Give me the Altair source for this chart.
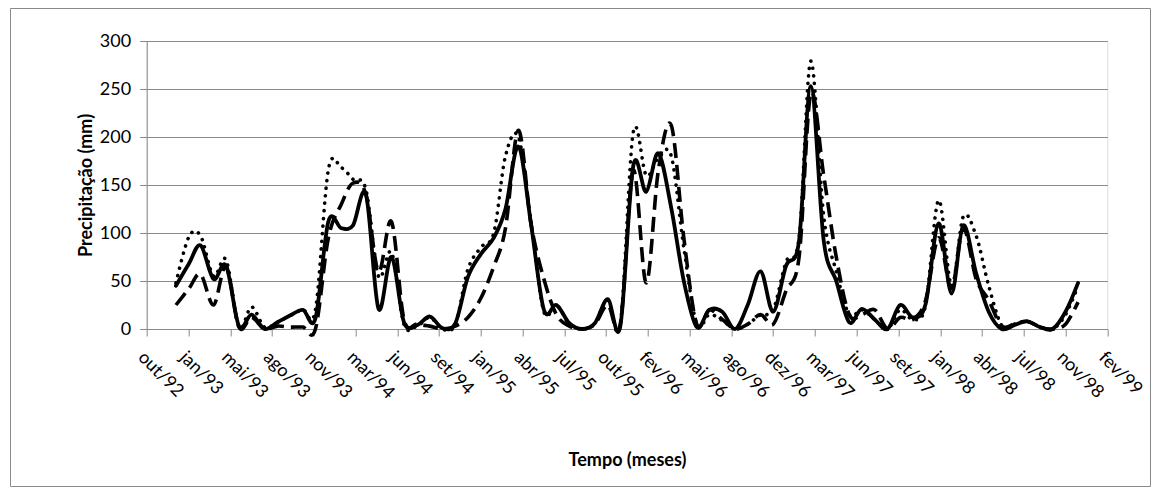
import altair as alt
import pandas as pd

# ---- data (monthly precipitation, mm), Jan/1993 .. Dec/1998 ----
MONTHS = pd.date_range("1993-01-01", periods=72, freq="MS").strftime("%Y-%m-%d").tolist()

SOLID = [
    45, 68, 87, 52, 66, 3, 15, 0, 7, 14, 20, 11,
    112, 105, 108, 140, 21, 75, 7, 4, 13, 1, 6, 54,
    78, 95, 125, 190, 110, 20, 25, 6, 0, 6, 31, 3,
    170, 143, 183, 126, 50, 2, 20, 18, 0, 25, 60, 18,
    66, 92, 253, 92, 50, 7, 21, 10, 0, 25, 12, 26,
    110, 37, 108, 58, 18, 0, 4, 8, 2, 0, 18, 48,
]
DOTTED = [
    48, 96, 97, 55, 72, 2, 23, 2, 7, 14, 20, 20,
    166, 168, 156, 145, 55, 80, 5, 3, 12, 0, 5, 62,
    85, 100, 180, 200, 112, 18, 25, 5, 0, 6, 30, 5,
    205, 160, 178, 180, 85, 5, 15, 9, 0, 5, 15, 20,
    70, 95, 279, 118, 60, 15, 20, 10, 0, 20, 10, 25,
    134, 45, 117, 97, 45, 4, 5, 8, 2, 0, 15, 45,
]
DASHED = [
    25, 42, 57, 25, 65, 2, 12, 0, 3, 2, 2, 0,
    95, 130, 152, 140, 60, 112, 10, 5, 3, 0, 3, 12,
    32, 65, 105, 207, 110, 52, 15, 3, 0, 5, 25, 5,
    165, 48, 165, 212, 95, 5, 20, 10, 0, 5, 15, 5,
    40, 75, 245, 160, 75, 15, 15, 20, 0, 12, 10, 30,
    95, 42, 105, 52, 30, 3, 5, 8, 2, 0, 5, 28,
]

TICK_START = "1992-10-23"
TICK_STEP_DAYS = 100
N_TICKS = 24
MONTH_ABBR = ["jan", "fev", "mar", "abr", "mai", "jun",
              "jul", "ago", "set", "out", "nov", "dez"]
Y_TICKS = [0, 50, 100, 150, 200, 250, 300]

ticks = pd.date_range(TICK_START, periods=N_TICKS, freq=f"{TICK_STEP_DAYS}D")
tick_ms = [int(t.value // 10**6) for t in ticks]

df = pd.concat([
    pd.DataFrame({"date": MONTHS, "value": SOLID, "serie": "solid"}),
    pd.DataFrame({"date": MONTHS, "value": DOTTED, "serie": "dotted"}),
    pd.DataFrame({"date": MONTHS, "value": DASHED, "serie": "dashed"}),
])

FONT = "Lato"
GRAY = "#898989"
abbr_js = "[" + ",".join(f"'{m}'" for m in MONTH_ABBR) + "]"

x_enc = alt.X(
    "date:T",
    scale=alt.Scale(type="utc", domain=[tick_ms[0], tick_ms[-1]], nice=False),
    axis=alt.Axis(
        values=tick_ms,
        labelExpr=f"{abbr_js}[utcmonth(datum.value)] + '/' + utcFormat(datum.value, '%y')",
        labelAngle=45, labelAlign="left", labelBaseline="top",
        labelPadding=12, tickSize=7, grid=False,
        title="Tempo (meses)", titlePadding=49,
        labelFont=FONT, labelFontSize=18, labelColor="black",
        titleFont=FONT, titleFontSize=18, titleFontWeight="bold", titleColor="black",
        domainColor=GRAY, tickColor=GRAY, labelOverlap=False, labelFlush=False,
    ),
)
y_enc = alt.Y(
    "value:Q",
    scale=alt.Scale(domain=[0, 300], nice=False),
    axis=alt.Axis(
        values=Y_TICKS, tickSize=7, grid=True, gridColor=GRAY,
        domainColor=GRAY, tickColor=GRAY,
        labelPadding=9, labelFont=FONT, labelFontSize=18, labelColor="black",
        title="Precipitação (mm)", titleX=-51, titleY=144,
        titleAngle=270, titleAlign="center", titleBaseline="bottom",
        titleFont=FONT, titleFontSize=18, titleFontWeight="bold", titleColor="black",
    ),
)

base = alt.Chart(df)

solid = base.transform_filter(alt.datum.serie == "solid").mark_line(
    color="black", strokeWidth=3.8, interpolate="cardinal", strokeCap="round"
).encode(x=x_enc, y=y_enc)

dotted = base.transform_filter(alt.datum.serie == "dotted").mark_line(
    color="black", strokeWidth=3.6, interpolate="cardinal",
    strokeCap="round", strokeDash=[0.1, 7.5]
).encode(x="date:T", y="value:Q")

dashed = base.transform_filter(alt.datum.serie == "dashed").mark_line(
    color="black", strokeWidth=3.6, interpolate="cardinal",
    strokeCap="butt", strokeDash=[15, 7]
).encode(x="date:T", y="value:Q")

frame = alt.Chart(alt.Data(values=[{}])).mark_rect(
    filled=False, stroke="#8a8a8a", strokeWidth=1
).encode(
    x=alt.value(-136.2), x2=alt.value(1003.8),
    y=alt.value(-32.5), y2=alt.value(445.5),
)

chart = alt.layer(frame, solid, dashed, dotted).properties(
    width=960.6, height=288,
    autosize=alt.AutoSizeParams(type="none"),
    padding={"left": 138.7, "top": 33, "right": 45.7, "bottom": 158},
).configure_view(strokeWidth=0).configure(background="white")

chart.save("out.html", embed_options={"renderer": "svg", "actions": False})
